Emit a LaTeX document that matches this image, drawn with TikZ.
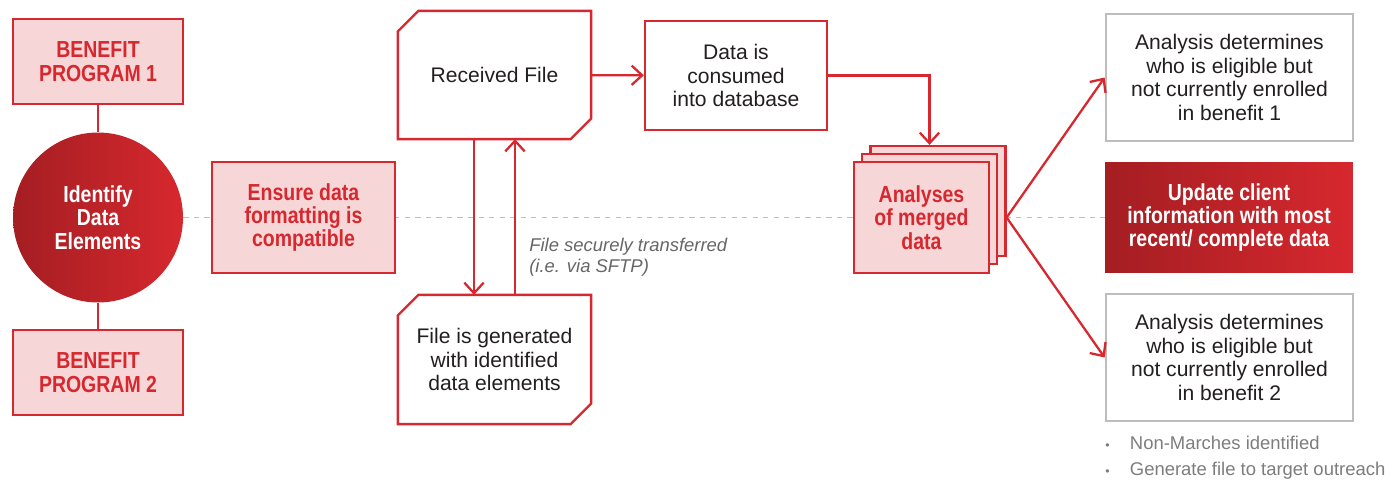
\documentclass[tikz,border=0pt]{standalone}
\usepackage{fontspec}
\setmainfont{Liberation Sans}
\newfontfamily\condfont[FakeStretch=0.84]{Liberation Sans}
\usepackage{tikz}
\usepackage{xcolor}
\usetikzlibrary{arrows.meta, backgrounds, calc, positioning}

\definecolor{fmred}{HTML}{D6282E}
\definecolor{fmpink}{HTML}{F6D6D7}
\definecolor{fmdark}{HTML}{A41E22}
\definecolor{fmgray}{HTML}{BDBDBD}
\definecolor{fmtext}{HTML}{231F20}
\definecolor{fmnote}{HTML}{666666}

\tikzset{
    redbox/.style={draw=fmred, fill=fmpink, line width=1.3pt, text=fmred, align=center, inner sep=0pt,
        font=\condfont\bfseries\fontsize{13.2}{13.3}\selectfont},
    darkbox/.style={left color=fmdark, right color=fmred, draw=none, text=white, align=center, inner sep=0pt,
        font=\condfont\bfseries\fontsize{13.2}{13.3}\selectfont},
    plainbox/.style={draw=fmred, fill=white, line width=1.3pt, text=fmtext, align=center, inner sep=0pt,
        font=\fontsize{12}{13.6}\selectfont},
    filebox/.style={plainbox, draw=none, fill=none},
    graybox/.style={draw=fmgray, fill=white, line width=1.6pt, text=fmtext, align=center, inner sep=0pt,
        font=\fontsize{12}{13.6}\selectfont},
    link/.style={draw=fmred, line width=1.3pt},
    guide/.style={draw=fmgray, line width=0.6pt, dash pattern=on 3pt off 3pt},
    note/.style={text=fmnote, align=left, inner sep=0pt, font=\itshape\fontsize{10.5}{12}\selectfont},
    point/.style={text=fmnote!85, inner sep=0pt, font=\fontsize{10.5}{12}\selectfont}
}

\begin{document}
\begin{tikzpicture}[x=0.02cm, y=-0.02cm, >={Straight Barb[length=6pt, width=11pt]}]
    \useasboundingbox (0, 0) rectangle (1394, 480);

    \node[redbox, minimum width=3.4cm, minimum height=1.7cm] (bp1) at (98, 61.5) {BENEFIT\\PROGRAM 1};
    \node[darkbox, circle, minimum size=3.4cm] (idc) at (98, 217.5) {Identify\\Data\\Elements};
    \node[redbox, minimum width=3.4cm, minimum height=1.7cm] (bp2) at (98, 372.5) {BENEFIT\\PROGRAM 2};

    \node[redbox, minimum width=3.66cm, minimum height=2.22cm] (fmt) at (303.5, 217.5) {Ensure data\\formatting is\\compatible};

    \node[filebox, minimum width=3.82cm, minimum height=2.52cm] (rcv) at (494.5, 75) {Received File};
    \node[filebox, minimum width=3.82cm, minimum height=2.54cm] (gen) at (494.5, 359.5) {File is generated\\with identified\\data elements};
    \node[note, anchor=west] (sftp) at (529, 257.5) {File securely transferred\\(i.e. via SFTP)};

    \node[plainbox, minimum width=3.64cm, minimum height=2.18cm] (dat) at (736, 75.5) {Data is\\consumed\\into database};

    \node[redbox, minimum width=2.7cm, minimum height=2.2cm] (anlback) at (938, 201) {};
    \node[redbox, minimum width=2.7cm, minimum height=2.2cm] (anlmid) at (929.5, 209) {};
    \node[redbox, minimum width=2.7cm, minimum height=2.22cm] (anl) at (921.5, 217.5) {Analyses\\of merged\\data};
    \coordinate (fork) at (anlback.east |- anl.east);

    \node[graybox, minimum width=4.94cm, minimum height=2.54cm] (el1) at (1229.5, 77.5) {Analysis determines\\who is eligible but\\not currently enrolled\\in benefit 1};
    \node[darkbox, minimum width=4.96cm, minimum height=2.22cm] (upd) at (1229, 217.5) {Update client\\information with most\\recent/ complete data};
    \node[graybox, minimum width=4.94cm, minimum height=2.54cm] (el2) at (1229.5, 357.5) {Analysis determines\\who is eligible but\\not currently enrolled\\in benefit 2};

    \node[point, anchor=west] (nm) at (1105, 443) {\makebox[14pt][l]{\scriptsize\textbullet}Non-Marches identified};
    \node[point, anchor=west] (out) at (1105, 471) {\makebox[14pt][l]{\scriptsize\textbullet}Generate file to target outreach};

    \begin{scope}[on background layer]
        \draw[guide] (idc.east) -- (upd.west);
    \end{scope}

    \foreach \f in {rcv, gen}
        \draw[link] ([yshift=-0.41cm]\f.north west) -- ([xshift=0.41cm]\f.north west) -- (\f.north east)
            -- ([yshift=0.41cm]\f.south east) -- ([xshift=-0.41cm]\f.south east) -- (\f.south west) -- cycle;

    \draw[link]
    (bp1) -- (idc)
    (idc) -- (bp2)
    (rcv) edge[->] (dat)
    ([xshift=-0.41cm]rcv.south) edge[->] ([xshift=-0.41cm]gen.north)
    ([xshift=0.41cm]gen.north) edge[->] ([xshift=0.41cm]rcv.south)
    (fork) edge[->] (el1.west)
    (fork) edge[->] (el2.west);

    \draw[link, ->] (dat.east) -| (anlmid.north |- anlback.north);
\end{tikzpicture}
\end{document}
